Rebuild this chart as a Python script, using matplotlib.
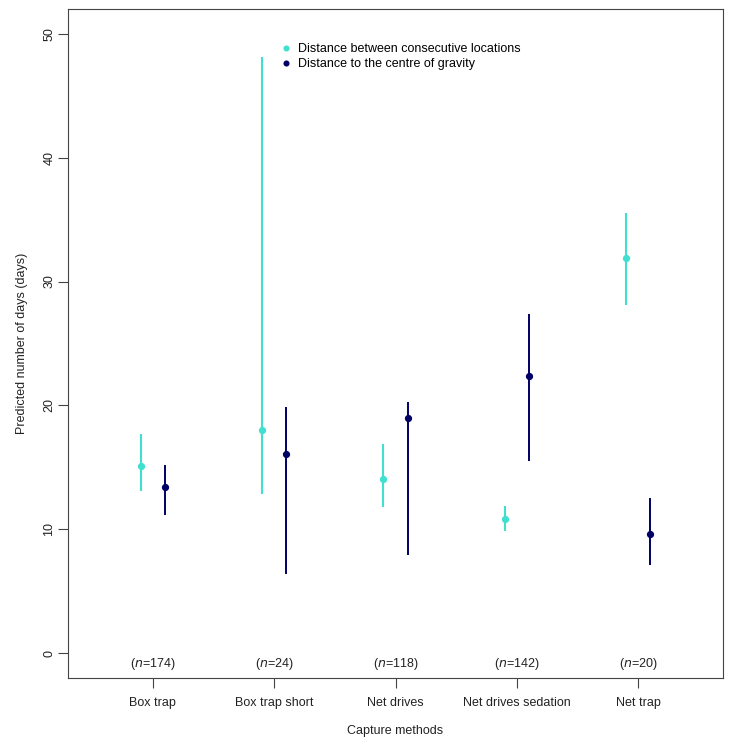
import numpy as np
import matplotlib.pyplot as plt

plt.rcParams['font.family'] = ['Liberation Sans', 'DejaVu Sans']

# Data
methods = ['Box trap', 'Box trap short', 'Net drives', 'Net drives sedation', 'Net trap']
n_obs = [174, 24, 118, 142, 20]

# Distance between consecutive locations
cons_est = [15.1, 18.0, 14.1, 10.8, 31.9]
cons_low = [13.1, 12.85, 11.8, 9.9, 28.1]
cons_high = [17.7, 48.1, 16.9, 11.9, 35.5]

# Distance to the centre of gravity
grav_est = [13.4, 16.1, 18.95, 22.4, 9.6]
grav_low = [11.15, 6.4, 7.95, 15.5, 7.1]
grav_high = [15.2, 19.9, 20.3, 27.4, 12.5]

cyan = '#40E0D0'
navy = '#000066'

fig = plt.figure(figsize=(7.35, 7.44), dpi=100)
ax = fig.add_axes([68 / 735, 1 - 678 / 744, 655 / 735, 669 / 744])

x = np.arange(1, len(methods) + 1)
off = 0.1

# Confidence intervals as vertical segments, estimates as dots
ax.vlines(x - off, cons_low, cons_high, color=cyan, lw=1.5)
ax.plot(x - off, cons_est, 'o', color=cyan, ms=4.2, label='Distance between consecutive locations')
ax.vlines(x + off, grav_low, grav_high, color=navy, lw=1.4)
ax.plot(x + off, grav_est, 'o', color=navy, ms=4.2, label='Distance to the centre of gravity')

# Sample sizes above the x axis
for xi, n in zip(x, n_obs):
    ax.text(xi, -0.9, r'($\it{n}$=' + str(n) + ')', ha='center', va='center', fontsize=9, color='#222222')

ax.set_xlim(0.3, 5.7)
ax.set_ylim(-2, 52)
ax.set_xticks(x)
ax.set_xticklabels(methods, fontsize=9)
ax.set_yticks([0, 10, 20, 30, 40, 50])
ax.set_yticklabels(['0', '10', '20', '30', '40', '50'], fontsize=9, rotation=90, va='center')
ax.tick_params(length=7, width=0.8, color='#444444', labelcolor='#222222')
ax.tick_params(axis='x', pad=6.5)
ax.tick_params(axis='y', pad=2)
for s in ax.spines.values():
    s.set_color('#444444')
    s.set_linewidth(0.8)

ax.set_xlabel('Capture methods', fontsize=9, color='#222222', labelpad=12)
ax.set_ylabel('Predicted number of days (days)', fontsize=9, color='#222222', labelpad=11)

ax.legend(loc='upper left', bbox_to_anchor=(0.32, 0.956), frameon=False, fontsize=9,
          handlelength=0.6, handletextpad=0.6, labelspacing=0.2, borderaxespad=0,
          markerscale=0.8)

fig.savefig('out.png', dpi=100)
